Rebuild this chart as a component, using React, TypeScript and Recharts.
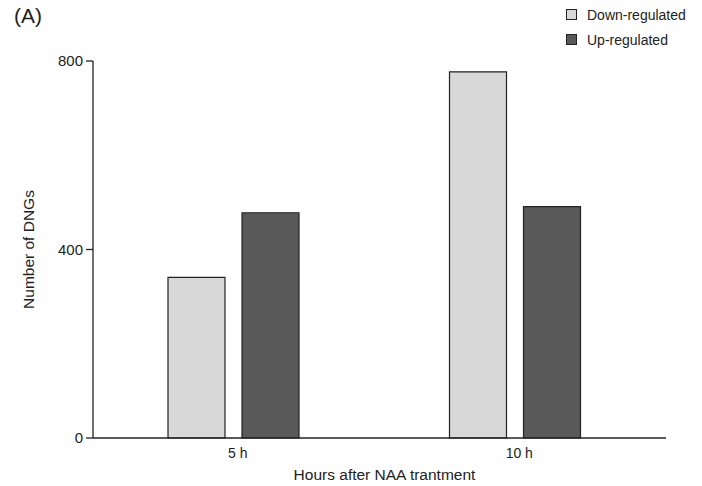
import React from "react";
import { BarChart, Bar, XAxis, YAxis, Legend } from "recharts";

const categories = ["5 h", "10 h"];
const downRegulated = [341, 777];
const upRegulated = [478, 491];
const yTicks = [0, 400, 800];

const seriesNames = { down: "Down-regulated", up: "Up-regulated" };
const colors = { down: "#d8d8d8", up: "#595959" };

const data = categories.map((c, i) => ({
  name: c,
  down: downRegulated[i],
  up: upRegulated[i],
}));

const FONT = "'Liberation Sans', Arial, Helvetica, sans-serif";

const LegendContent = () => (
  <div style={{ fontFamily: FONT, fontSize: 14, color: "#222" }}>
    {[
      { key: "down", label: seriesNames.down, color: colors.down },
      { key: "up", label: seriesNames.up, color: colors.up },
    ].map((it) => (
      <div key={it.key} style={{ display: "flex", alignItems: "center", height: 25 }}>
        <div
          style={{
            width: 9,
            height: 9,
            background: it.color,
            border: "1px solid #222",
            marginRight: 10,
          }}
        />
        <span>{it.label}</span>
      </div>
    ))}
  </div>
);

export default function App() {
  return (
    <div style={{ position: "absolute", left: 0, top: 0, width: 702, height: 486, background: "#fff" }}>
      <div
        style={{
          position: "absolute",
          left: 14,
          top: 4,
          fontFamily: FONT,
          fontSize: 21,
          color: "#222",
          zIndex: 2,
        }}
      >
        (A)
      </div>
      <BarChart
        width={702}
        height={486}
        data={data}
        margin={{ top: 61, right: 36, bottom: 0, left: 0 }}
        barGap={17}
        barSize={57}
      >
        <XAxis
          dataKey="name"
          height={48}
          padding={{ left: 0, right: 10 }}
          tickLine={false}
          axisLine={{ stroke: "#222", strokeWidth: 1.3 }}
          tick={{ fill: "#222", fontSize: 14, fontFamily: FONT, dx: 4 }}
          tickMargin={4}
          label={{
            value: "Hours after NAA trantment",
            position: "insideBottom",
            offset: 6,
            dx: 5,
            style: { fill: "#222", fontSize: 15.5, fontFamily: FONT },
          }}
        />
        <YAxis
          width={93}
          domain={[0, 800]}
          ticks={yTicks}
          tickSize={7}
          tickMargin={3}
          axisLine={{ stroke: "#222", strokeWidth: 1.3 }}
          tickLine={{ stroke: "#222", strokeWidth: 1.3 }}
          tick={{ fill: "#222", fontSize: 15, fontFamily: FONT }}
          label={{
            value: "Number of DNGs",
            angle: -90,
            position: "insideLeft",
            offset: 28,
            style: { textAnchor: "middle", fill: "#222", fontSize: 15.5, fontFamily: FONT },
          }}
        />
        <Legend
          verticalAlign="middle"
          align="center"
          layout="vertical"
          content={<LegendContent />}
          wrapperStyle={{ top: 2, left: 566, width: 136 }}
        />
        <Bar
          dataKey="down"
          name={seriesNames.down}
          fill={colors.down}
          stroke="#222"
          strokeWidth={1.2}
          isAnimationActive={false}
        />
        <Bar
          dataKey="up"
          name={seriesNames.up}
          fill={colors.up}
          stroke="#222"
          strokeWidth={1.2}
          isAnimationActive={false}
        />
      </BarChart>
    </div>
  );
}
